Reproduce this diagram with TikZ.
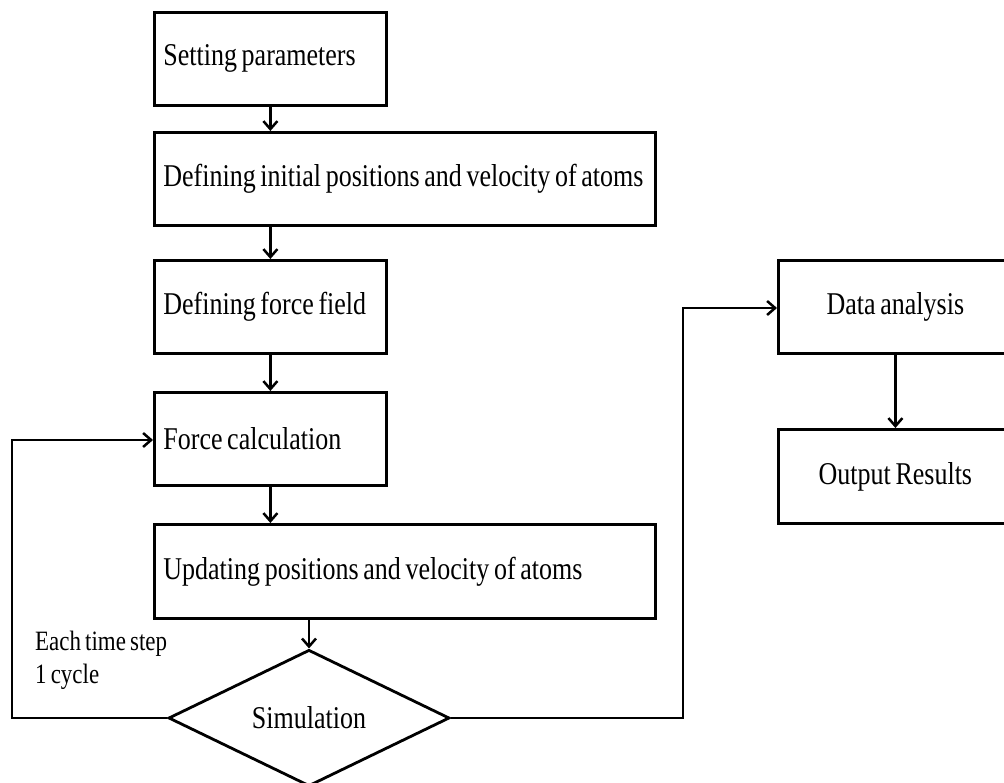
\documentclass[tikz,border=0pt]{standalone}
\usepackage{fontspec}
\setmainfont[FakeStretch=0.82, WordSpace=0.72]{Liberation Serif}
\usetikzlibrary{arrows.meta,shapes.geometric}
\newcommand{\natsp}{\spaceskip=0pt \xspaceskip=0pt }
\begin{document}
\begin{tikzpicture}[x=1pt,y=-1pt,
  box/.style={draw, line width=2.8pt, rectangle, inner sep=0pt, anchor=north west,
    font=\fontsize{31.7}{36}\selectfont},
  lbox/.style={box, align=left, text width=#1},
  arr/.style={line width=2.5pt, -{Straight Barb[length=8pt,width=14pt,line width=2.5pt]}},
  lab/.style={anchor=base west, inner sep=0pt, font=\fontsize{28}{33}\selectfont}]
\useasboundingbox (0,0) rectangle (1004,783);
\clip (0,0) rectangle (1004,783);

\node[lbox=214pt, minimum width=232pt, minimum height=93pt] (b1) at (153,11) {\natsp\mbox{Setting parameters}};
\node[lbox=483pt, minimum width=501pt, minimum height=93pt] (b2) at (153,131) {\natsp\mbox{Defining initial positions and velocity of atoms}};
\node[lbox=214pt, minimum width=232pt, minimum height=93pt] (b3) at (153,259) {\natsp\mbox{Defining force field}};
\node[lbox=214pt, minimum width=232pt, minimum height=93pt] (b4) at (153,391) {\natsp\mbox{Force calculation}};
\node[lbox=483pt, minimum width=501pt, minimum height=94pt] (b5) at (153,523) {\natsp\mbox{Updating positions and velocity of atoms}};
\node[draw, line width=2.8pt, diamond, inner sep=0pt, minimum width=281pt, minimum height=132pt,
  font=\fontsize{31.7}{36}\selectfont] (sim) at (309,718) {Simulation};
\node[box, minimum width=234pt, minimum height=93pt] (da) at (777,259) {Data analysis};
\node[box, minimum width=234pt, minimum height=94pt] (out) at (777,428) {Output Results};

\node[lab] (l1) at (35,650) {Each time step};
\node[lab] (l2) at (35,683) {1 cycle};

\coordinate (lp) at (12,440);
\coordinate (rp) at (683,308);

\draw[arr] (b1.south) -- (b1.south |- b2.north);
\draw[arr] (b2.south -| b1.south) -- (b1.south |- b3.north);
\draw[arr] (b3.south) -- (b3.south |- b4.north);
\draw[arr] (b4.south) -- (b4.south |- b5.north);
\draw[arr] (sim.north |- b5.south) -- (sim.north);
\draw[arr] (sim.west) -| (lp) -- (b4.west |- lp);
\draw[arr] (sim.east) -| (rp) -- (da.west |- rp);
\draw[arr] (da.south) -- (out.north);
\end{tikzpicture}
\end{document}
